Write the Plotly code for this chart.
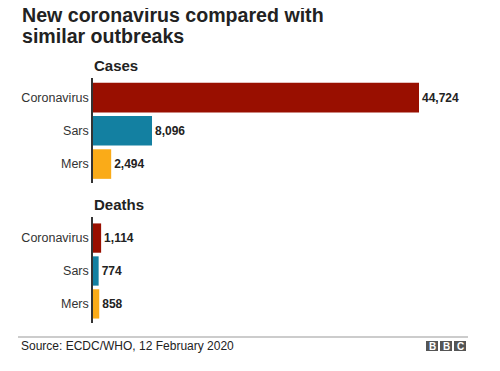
import plotly.graph_objects as go

categories = ["Coronavirus", "Sars", "Mers"]
cases = [44724, 8096, 2494]
deaths = [1114, 774, 858]
colors = ["#990F00", "#1380A1", "#FAAB18"]
panel_titles = ["Cases", "Deaths"]
title_lines = ["New coronavirus compared with", "similar outbreaks"]
source_text = "Source: ECDC/WHO, 12 February 2020"
logo_letters = ["B", "B", "C"]

# page body has an 8px default margin: size the figure so it fits the window
OFF = 8
WIN_W, WIN_H = 500, 371
W, H = WIN_W - OFF, WIN_H - OFF
FONT = "Liberation Sans, Arial, Helvetica, sans-serif"


def fx(p):
    return (p - OFF) / W


def fy(p):
    return 1 - (p - OFF) / H


fig = go.Figure()
for i, vals in enumerate([cases, deaths]):
    suffix = "" if i == 0 else "2"
    fig.add_trace(go.Bar(
        y=categories, x=vals, orientation="h",
        marker=dict(color=colors, line_width=0),
        texttemplate="<b>%{x:,}</b>", textposition="outside",
        textfont=dict(size=12, color="#222222", family=FONT),
        cliponaxis=False, width=0.89,
        xaxis="x" + suffix, yaxis="y" + suffix,
        hoverinfo="skip", showlegend=False,
    ))

xmax = 44724 * (WIN_W - 93) / 326
common_x = dict(domain=[fx(93), 1], range=[0, xmax], visible=False, fixedrange=True)
common_y = dict(type="category", categoryorder="array", categoryarray=categories,
                showline=True, linecolor="#333333", linewidth=1.5, ticks="",
                showgrid=False, zeroline=False,
                tickfont=dict(size=12.5, color="#333333", family=FONT))

fig.update_layout(
    width=W, height=H, margin=dict(l=0, r=0, t=0, b=0),
    paper_bgcolor="white", plot_bgcolor="white",
    font=dict(family=FONT),
    xaxis=dict(**common_x, anchor="y"),
    xaxis2=dict(**common_x, anchor="y2"),
    yaxis=dict(**common_y, domain=[fy(183), fy(78)], range=[2.57, -0.59], anchor="x"),
    yaxis2=dict(**common_y, domain=[fy(323), fy(217)], range=[2.58, -0.64], anchor="x2"),
    bargap=0.11,
)

ann = []
# title: one annotation, base font sets the tight line spacing
title_text = "<br>".join("<b><span style='font-size:19.6px'>" + t + "</span></b>" for t in title_lines)
ann.append(dict(text=title_text, x=fx(20), y=1, xref="paper", yref="paper",
                xanchor="left", yanchor="top", align="left", showarrow=False, yshift=6,
                font=dict(size=16, color="#222222", family=FONT)))
# panel titles
for txt, yc in zip(panel_titles, [65, 204]):
    ann.append(dict(text="<b>" + txt + "</b>", x=fx(92), y=fy(yc), xref="paper", yref="paper",
                    xanchor="left", yanchor="middle", showarrow=False,
                    font=dict(size=15, color="#222222", family=FONT)))
# source
ann.append(dict(text=source_text, x=fx(19), y=fy(346), xref="paper", yref="paper",
                xanchor="left", yanchor="middle", showarrow=False,
                font=dict(size=12, color="#222222", family=FONT)))

shapes = [dict(type="line", xref="paper", yref="paper", x0=fx(18), x1=fx(468),
               y0=fy(337), y1=fy(337), line=dict(color="#999999", width=1))]
# BBC logo
box_x = [426, 440, 454]
for bx, letter in zip(box_x, logo_letters):
    shapes.append(dict(type="rect", xref="paper", yref="paper", x0=fx(bx), x1=fx(bx + 12),
                       y0=fy(351), y1=fy(341), fillcolor="#555555", line_width=0))
    ann.append(dict(text="<b>" + letter + "</b>", x=fx(bx + 6), y=fy(346), xref="paper", yref="paper",
                    xanchor="center", yanchor="middle", showarrow=False,
                    font=dict(size=10, color="white", family=FONT)))

fig.update_layout(annotations=ann, shapes=shapes)
fig.write_html("out.html")
